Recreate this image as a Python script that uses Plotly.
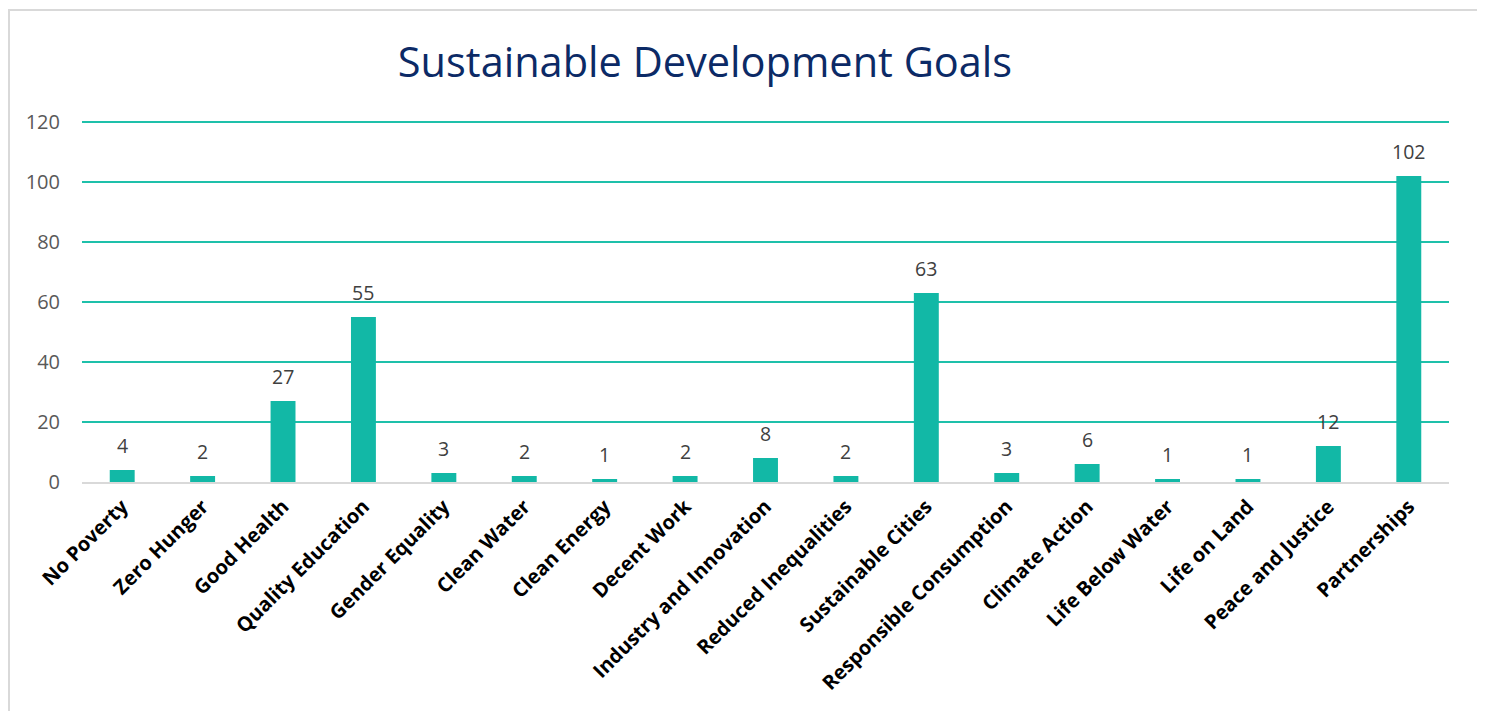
import plotly.graph_objects as go

categories = ["No Poverty", "Zero Hunger", "Good Health", "Quality Education", "Gender Equality",
              "Clean Water", "Clean Energy", "Decent Work", "Industry and Innovation",
              "Reduced Inequalities", "Sustainable Cities", "Responsible Consumption",
              "Climate Action", "Life Below Water", "Life on Land", "Peace and Justice", "Partnerships"]
values = [4, 2, 27, 55, 3, 2, 1, 2, 8, 2, 63, 3, 6, 1, 1, 12, 102]
y_ticks = [0, 20, 40, 60, 80, 100, 120]

BAR = "#12b8a6"
FONT = "Open Sans"
W, H = 1477, 703
YMAX = 122
L, PW = 74, 1367
PH = 3 * YMAX
T = 474 - PH

fig = go.Figure(go.Bar(
    x=categories, y=values, marker=dict(color=BAR, line=dict(width=0)),
    hoverinfo="x+y",
))

annotations = [dict(x=c, y=v, xref="x", yref="y", text=str(v), showarrow=False,
                    yanchor="middle", yshift=25,
                    font=dict(family=FONT, size=19.5, color="#404040"))
               for c, v in zip(categories, values)]

fig.update_layout(
    width=W, height=H,
    margin=dict(l=L, r=W - L - PW, t=T, b=H - T - PH, autoexpand=False),
    paper_bgcolor="white", plot_bgcolor="white",
    bargap=0.69,
    showlegend=False,
    title=dict(text="Sustainable Development Goals", x=697 / W, xref="container", xanchor="center",
               y=1 - 54 / H, yref="container", yanchor="middle",
               font=dict(family=FONT, size=41.5, color="#0c2a66")),
    font=dict(family=FONT),
    annotations=annotations,
    shapes=[dict(type="rect", xref="paper", yref="paper",
                 x0=(1 - L) / PW, x1=(1470 - L) / PW, y0=-1.0, y1=(PH + T - 2) / PH,
                 line=dict(color="#d9d9d9", width=2), fillcolor="rgba(0,0,0,0)", layer="below")],
)
fig.update_yaxes(range=[0, YMAX], tickvals=y_ticks, showgrid=True, gridcolor="#1ec0aa", gridwidth=2,
                 zeroline=False, showline=False, ticks="", ticklabelstandoff=21, automargin=False,
                 tickfont=dict(family=FONT, size=20, color="#595959"), fixedrange=True)
fig.update_xaxes(tickangle=-45, showline=True, linecolor="#d9d9d9", linewidth=2, ticks="",
                 tickfont=dict(family=FONT, size=20, color="#000000", weight="bold"),
                 ticklabelstandoff=3, automargin=False, fixedrange=True)

fig.write_html("out.html")
